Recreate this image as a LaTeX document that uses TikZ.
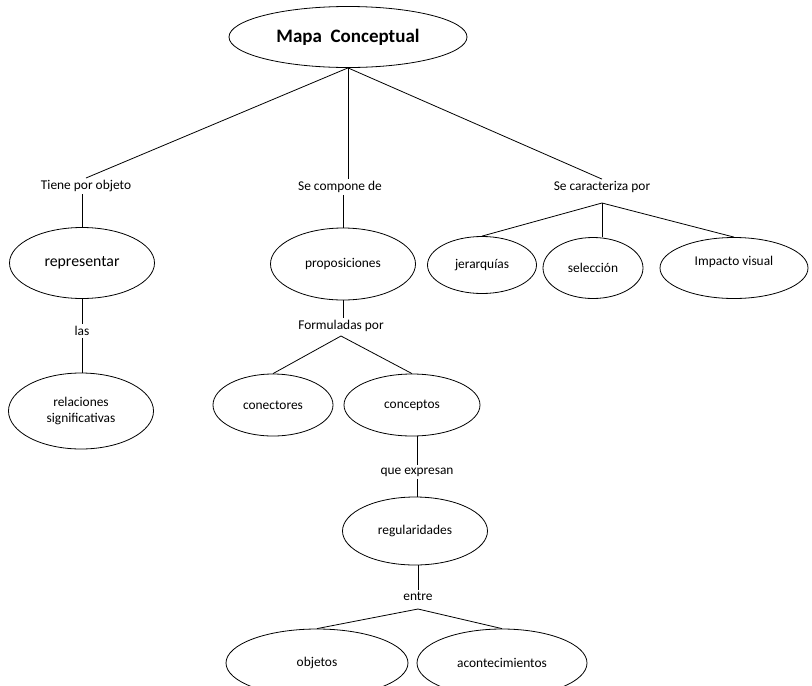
\documentclass[tikz,border=0pt]{standalone}
\usepackage{fontspec}
\setmainfont{Carlito}
\usetikzlibrary{shapes.geometric}
\begin{document}
\begin{tikzpicture}[x=1pt,y=-1pt,
  concept/.style={draw=black, line width=0.8pt, ellipse, inner sep=0pt, align=center, font=\fontsize{13.4}{16}\selectfont},
  linker/.style={inner sep=2pt, font=\fontsize{13.4}{16}\selectfont},
  conn/.style={draw=black, line width=0.8pt}]
\useasboundingbox (0,0) rectangle (812,686);
\clip (0,0) rectangle (812,686);
\fill[white] (0,0) rectangle (812,686);

% nodes
\node[concept, minimum width=238pt, minimum height=61pt, font=\bfseries\fontsize{19}{22}\selectfont] (top) at (348,37) {Mapa\ \ Conceptual};

\node[linker] (tiene) at (86,186) {Tiene por objeto};
\node[linker] (comp) at (340,187) {Se compone de};
\node[linker] (carac) at (602,187) {Se caracteriza por};
\coordinate (caracb) at (602,203);

\node[concept, minimum width=145pt, minimum height=71pt, font=\fontsize{15.8}{18}\selectfont] (repr) at (82,263) {representar};
\node[linker] (las) at (82,331) {las};
\node[concept, minimum width=145pt, minimum height=76pt] (rel) at (81,411) {relaciones\\significativas};

\node[concept, minimum width=145pt, minimum height=72pt] (prop) at (343,264) {proposiciones};
\node[linker] (form) at (341,326) {Formuladas por};
\coordinate (formb) at (341,336);
\node[concept, minimum width=120pt, minimum height=62pt] (conec) at (273,405) {conectores};
\node[concept, minimum width=136pt, minimum height=62pt] (conc) at (412,405) {conceptos};
\node[linker] (expr) at (417,472) {que expresan};
\node[concept, minimum width=145pt, minimum height=68pt] (reg) at (415,531) {regularidades};
\node[linker] (entre) at (418,596) {entre};
\coordinate (entreb) at (418,609);
\node[concept, minimum width=182pt, minimum height=68pt] (obj) at (317,663) {objetos};
\node[concept, minimum width=170pt, minimum height=68pt] (acon) at (502,663) {acontecimientos};

\node[concept, minimum width=109pt, minimum height=57pt] (jer) at (482,265) {jerarquías};
\node[concept, minimum width=100pt, minimum height=61pt] (sel) at (593,268) {selección};
\node[concept, minimum width=148pt, minimum height=61pt] (imp) at (734,268) {};
\node[linker] at (734,262) (impt) {Impacto visual};

% connectors
\draw[conn] (top.south) -- (tiene.north);
\draw[conn] (top.south) -- (comp.north -| top.south);
\draw[conn] (top.south) -- (carac.north);

\draw[conn] (tiene.south -| repr.north) -- (repr.north);
\draw[conn] (repr.south) -- (las.north -| repr.south);
\draw[conn] (las.south -| repr.south) -- (rel.north -| repr.south);

\draw[conn] (comp.south -| prop.north) -- (prop.north);
\draw[conn] (prop.south) -- (form.north -| prop.south);
\draw[conn] (formb) -- (conec.north);
\draw[conn] (formb) -- (conc.north);
\draw[conn] (conc.south -| expr.north) -- (expr.north);
\draw[conn] (expr.south) -- (reg.north -| expr.south);
\draw[conn] (reg.south -| entre.north) -- (entre.north);
\draw[conn] (entreb) -- (obj.north);
\draw[conn] (entreb) -- (acon.north);

\draw[conn] (caracb) -- (jer.north);
\draw[conn] (caracb) -- (sel.north -| caracb);
\draw[conn] (caracb) -- (imp.north);
\end{tikzpicture}
\end{document}
